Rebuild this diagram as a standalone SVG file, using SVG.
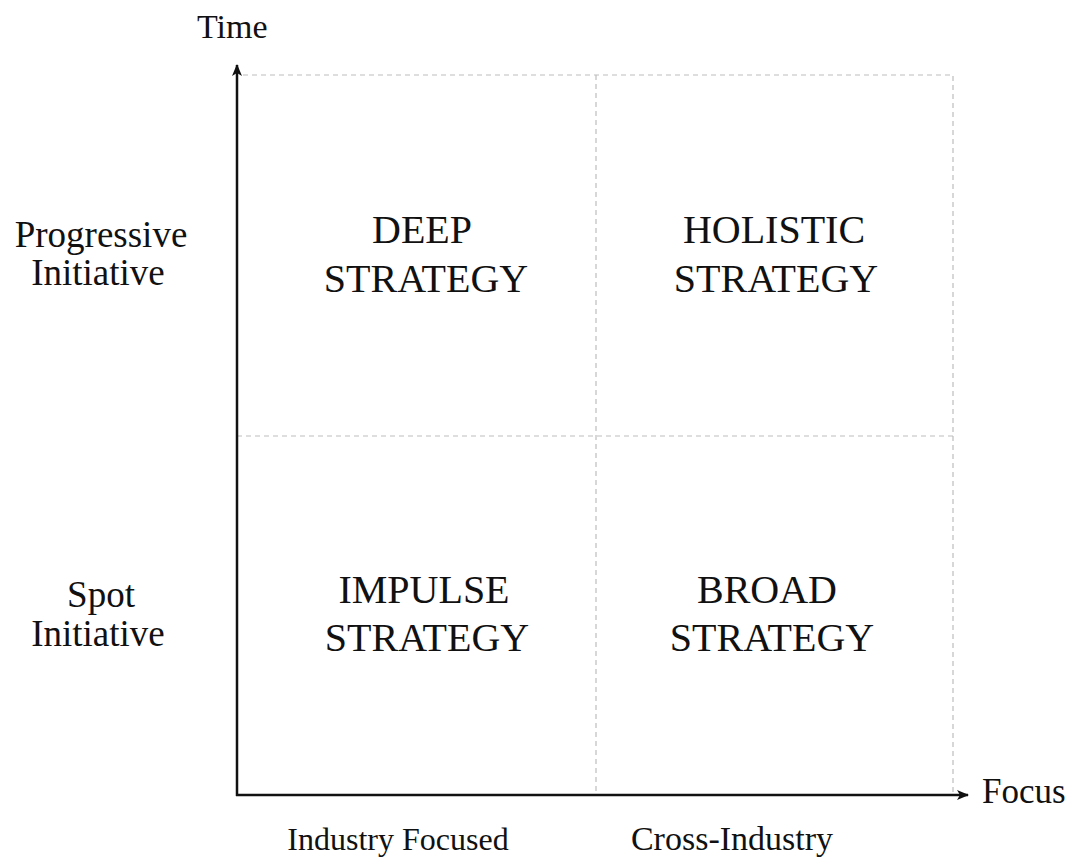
<svg xmlns="http://www.w3.org/2000/svg" width="1077" height="864" viewBox="0 0 1077 864">
  <style>
    text { font-family: "Liberation Serif", "Times New Roman", serif; fill: #111; }
    .axis { stroke: #111; stroke-width: 2.5; fill: none; }
    .grid { stroke: #bdbdbd; stroke-width: 1.2; stroke-dasharray: 5 4; fill: none; }
    .quad { font-size: 40px; text-anchor: middle; }
    .side { font-size: 37px; text-anchor: middle; }
    .foot { font-size: 32px; text-anchor: middle; }
    .title { font-size: 34px; }
  </style>
  <defs>
    <marker id="arrow" viewBox="0 0 12 10" refX="11" refY="5" markerWidth="12" markerHeight="10" markerUnits="userSpaceOnUse" orient="auto">
      <path d="M0,0 L12,5 L0,10 L3,5 Z" fill="#111"/>
    </marker>
  </defs>
  <rect width="1077" height="864" fill="#fff"/>

  <!-- dashed quadrant grid -->
  <g id="grid">
    <path class="grid" d="M243,75 H953 V795"/>
    <path class="grid" d="M596,75 V795"/>
    <path class="grid" d="M237,436 H953"/>
  </g>

  <!-- axes -->
  <g id="connectors">
    <line class="axis" x1="237" y1="796" x2="237" y2="65" marker-end="url(#arrow)"/>
    <line class="axis" x1="236" y1="795" x2="968" y2="795" marker-end="url(#arrow)"/>
  </g>

  <!-- axis titles -->
  <g id="axis-time"><text class="title" x="197" y="38">Time</text></g>
  <g id="axis-focus"><text class="title" x="982" y="803" style="font-size:35px">Focus</text></g>

  <!-- row labels -->
  <g id="row-progressive">
    <text class="side" x="101" y="247">Progressive</text>
    <text class="side" x="98" y="285">Initiative</text>
  </g>
  <g id="row-spot">
    <text class="side" x="101" y="607">Spot</text>
    <text class="side" x="98" y="646">Initiative</text>
  </g>

  <!-- column labels -->
  <g id="col-industry"><text class="foot" x="398" y="850">Industry Focused</text></g>
  <g id="col-cross"><text class="foot" x="732" y="850" style="font-size:34px">Cross-Industry</text></g>

  <!-- quadrants -->
  <g id="deep-strategy">
    <text class="quad" x="422" y="243">DEEP</text>
    <text class="quad" x="426" y="292">STRATEGY</text>
  </g>
  <g id="holistic-strategy">
    <text class="quad" x="774" y="243">HOLISTIC</text>
    <text class="quad" x="776" y="292">STRATEGY</text>
  </g>
  <g id="impulse-strategy">
    <text class="quad" x="424" y="603">IMPULSE</text>
    <text class="quad" x="427" y="651">STRATEGY</text>
  </g>
  <g id="broad-strategy">
    <text class="quad" x="767" y="603">BROAD</text>
    <text class="quad" x="772" y="651">STRATEGY</text>
  </g>
</svg>
